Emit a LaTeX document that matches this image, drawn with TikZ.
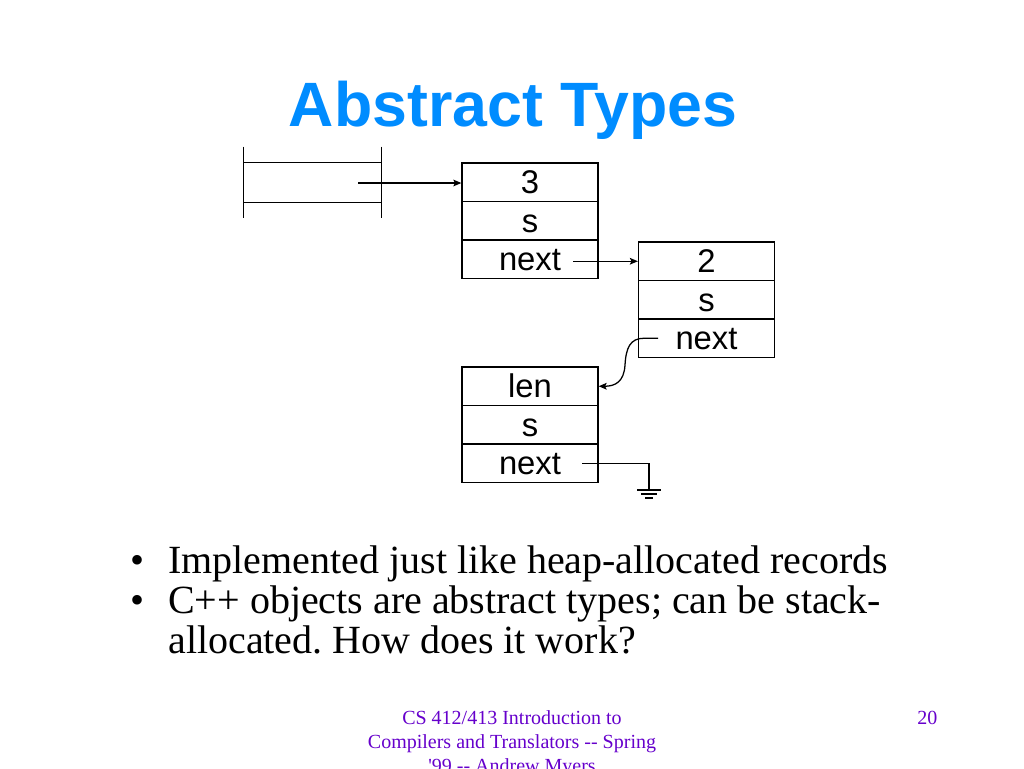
\documentclass[tikz,border=0pt]{standalone}
\usepackage{fontspec}
\setmainfont{Liberation Serif}
\newfontfamily\arialfont{Liberation Sans}
\newfontfamily\footfont{Liberation Serif}[Ligatures=TeXOff]
\usetikzlibrary{arrows.meta}
\definecolor{titleblue}{RGB}{0,140,255}
\definecolor{footpurple}{RGB}{102,0,204}
\begin{document}
\frenchspacing
\begin{tikzpicture}[x=0.75pt,y=-0.75pt,
  ln/.style={line width=0.95pt,black},
  arr/.style={ln,-{Stealth[length=6pt,width=5pt,inset=1.2pt]}},
  cell/.style={draw,line width=0.95pt,minimum width=102pt,minimum height=28.9pt,
    inner sep=0pt,font=\arialfont\fontsize{24.6}{24.6}\selectfont,text height=17.6pt,text depth=0pt},
  bul/.style={anchor=base west,inner sep=0pt,font=\fontsize{30}{36}\selectfont},
  foot/.style={anchor=base,inner sep=0pt,text=footpurple,font=\footfont\fontsize{15}{18}\selectfont}]
\useasboundingbox[fill=white] (0,0) rectangle (1024,768);

% title
\node[anchor=base,inner sep=0pt,text=titleblue,font=\arialfont\bfseries\fontsize{47}{47}\selectfont] (title) at (513,126) {Abstract Types};

% stack frame
\node[minimum width=102.75pt,minimum height=29.25pt,inner sep=0pt] (frame) at (312.5,182.5) {};
\draw[ln] (frame.north west) -- (frame.north east);
\draw[ln] (frame.south west) -- (frame.south east);
\draw[ln] ([yshift=12pt]frame.north west) -- ([yshift=-12pt]frame.south west);
\draw[ln] ([yshift=12pt]frame.north east) -- ([yshift=-12pt]frame.south east);
\coordinate (fp) at (358,183);

% record 1
\node[cell] (a1) at (530,182.25) {3};
\node[cell] (a2) at (530,220.75) {s};
\node[cell] (a3) at (530,259.25) {next};
% record 2
\node[cell] (b1) at (706.5,261.25) {2};
\node[cell] (b2) at (706.5,299.75) {s};
\node[cell] (b3) at (706.5,338.25) {next};
% record 3
\node[cell] (c1) at (530,386.25) {len};
\node[cell] (c2) at (530,424.75) {s};
\node[cell] (c3) at (530,463.25) {next};

% pointers
\draw[arr] (fp) -- (fp -| a1.west);
\coordinate (n1p) at (573,261.25);
\draw[arr] (n1p) -- (b1.west);
\coordinate (n2p) at (658,338.25);
\draw[arr] (n2p) -- (644,338.25) .. controls (630,338.25) and (626,348) .. (625,365)
   .. controls (624,382) and (615,386.25) .. (c1.east);
\coordinate (n3p) at (582,463.25);
\coordinate (gnd) at (649,490);
\draw[ln] (n3p) -| (gnd);
\draw[ln] ([xshift=-9pt]gnd) -- ([xshift=9pt]gnd);
\draw[ln] ([xshift=-6pt,yshift=-3pt]gnd) -- ([xshift=6pt,yshift=-3pt]gnd);
\draw[ln] ([xshift=-3pt,yshift=-6pt]gnd) -- ([xshift=3pt,yshift=-6pt]gnd);

% bullets
\node[bul] (k1) at (130,573) {•};
\node[bul] (t1) at (168,573) {Implemented just like heap-allocated records};
\node[bul] (k2) at (130,613) {•};
\node[bul] (t2) at (168,613) {C++ objects are abstract types; can be stack-};
\node[bul] (t3) at (168,653) {allocated. How does it work?};

% footer
\node[foot] (f1) at (512,724) {CS 412/413 Introduction to};
\node[foot] (f2) at (512,748) {Compilers and Translators -- Spring};
\node[foot] (f3) at (512,772) {'99 -- Andrew Myers};
\node[foot,anchor=base west] (pg) at (917,724) {20};
\end{tikzpicture}
\end{document}
